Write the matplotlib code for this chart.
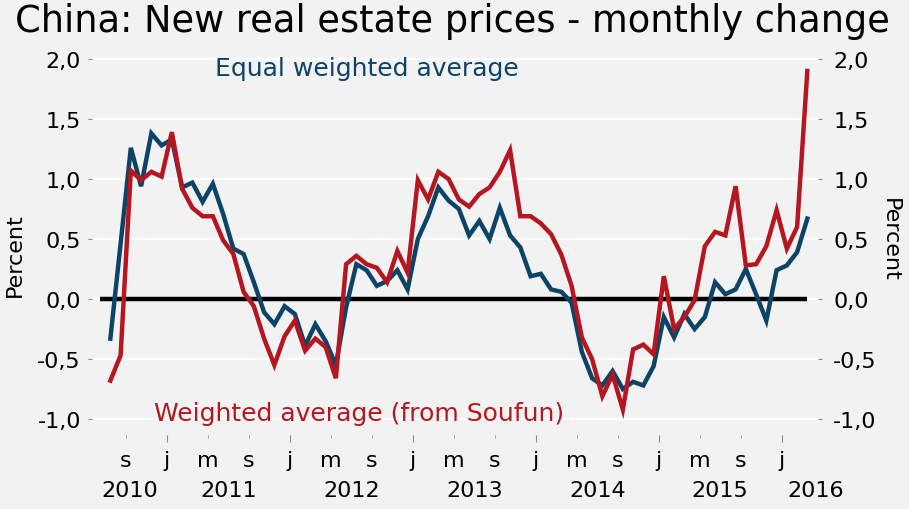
import numpy as np
import matplotlib
matplotlib.use('Agg')
import matplotlib.pyplot as plt
import matplotlib.transforms as mtransforms

# monthly change in %, Jul 2010 .. Mar 2016
start_year = 2010
start_month = 7
equal_w = [-0.33, 0.46, 1.26, 0.94, 1.38, 1.28, 1.33, 0.93, 0.97, 0.81,
           0.96, 0.71, 0.42, 0.375, 0.14, -0.11, -0.21, -0.06, -0.125, -0.39,
           -0.21, -0.35, -0.55, -0.07, 0.29, 0.24, 0.11, 0.15, 0.24, 0.08,
           0.50, 0.69, 0.93, 0.82, 0.75, 0.53, 0.65, 0.50, 0.76, 0.53,
           0.43, 0.19, 0.21, 0.08, 0.06, -0.03, -0.44, -0.66, -0.72, -0.60,
           -0.75, -0.69, -0.72, -0.56, -0.15, -0.32, -0.125, -0.25, -0.15, 0.14,
           0.04, 0.08, 0.25, 0.04, -0.18, 0.24, 0.28, 0.39, 0.67]
soufun = [-0.68, -0.47, 1.07, 0.99, 1.06, 1.02, 1.39, 0.92, 0.76, 0.69,
          0.69, 0.49, 0.375, 0.06, -0.06, -0.33, -0.55, -0.31, -0.18, -0.43,
          -0.33, -0.40, -0.66, 0.29, 0.36, 0.29, 0.26, 0.14, 0.40, 0.22,
          0.99, 0.83, 1.06, 1.00, 0.83, 0.77, 0.875, 0.93, 1.06, 1.24,
          0.69, 0.69, 0.63, 0.54, 0.37, 0.11, -0.32, -0.50, -0.81, -0.63,
          -0.92, -0.42, -0.38, -0.46, 0.19, -0.25, -0.15, -0.01, 0.44, 0.56,
          0.53, 0.94, 0.28, 0.29, 0.44, 0.74, 0.42, 0.60, 1.90]
month_letters = ['j', 'f', 'm', 'a', 'm', 'j', 'j', 'a', 's', 'o', 'n', 'd']
years = [2010, 2011, 2012, 2013, 2014, 2015, 2016]
yticks = [-1.0, -0.5, 0.0, 0.5, 1.0, 1.5, 2.0]

BLUE = '#0c4467'
RED = '#b5161f'
BG = '#f2f2f2'

# x = months since Jan 2010 (month start), points at mid month
x = (start_year - 2010) * 12 + (start_month - 1) + 0.5 + np.arange(len(equal_w))

fig = plt.figure(figsize=(9.09, 5.10), dpi=100, facecolor=BG)
ax = fig.add_axes([92/909, 1-436/510, (818-92)/909, (436-54)/510])
ax.set_facecolor(BG)
xmin, xmax = 4.71, 75.54
ax.set_xlim(xmin, xmax)
ax.set_ylim(-1.133, 2.05)

ax.grid(axis='y', color='white', lw=1.6)
ax.set_axisbelow(True)
ax.hlines(0, x[0] - 1, x[-1], color='black', lw=3.2, zorder=2)
ax.plot(x, equal_w, color=BLUE, lw=3.2, zorder=3, solid_joinstyle='miter')
ax.plot(x, soufun, color=RED, lw=3.2, zorder=4, solid_joinstyle='miter')

for s in ax.spines.values():
    s.set_visible(False)

fs = 16
ylabels = [f'{v:.1f}'.replace('.', ',') for v in yticks]
ax.set_yticks(yticks)
ax.set_yticklabels(ylabels, fontsize=fs)
ax.tick_params(axis='y', length=3, color='#888888', pad=5)

ax2 = ax.twinx()
ax2.set_ylim(ax.get_ylim())
ax2.set_yticks(yticks)
ax2.set_yticklabels(ylabels, fontsize=fs)
ax2.tick_params(axis='y', length=3, color='#888888', pad=8)
for s in ax2.spines.values():
    s.set_visible(False)

# x ticks every 4 months from Sep 2010
tick_pos = np.arange(8, xmax, 4)
major = [t for t in tick_pos if t % 12 == 0]
minor = [t for t in tick_pos if t % 12 != 0]
ax.set_xticks(major)
ax.set_xticklabels([month_letters[int(t) % 12] for t in major], fontsize=fs)
ax.set_xticks(minor, minor=True)
ax.set_xticklabels([month_letters[int(t) % 12] for t in minor], minor=True, fontsize=fs)
ax.tick_params(axis='x', which='major', length=5, color='#888888', pad=6)
ax.tick_params(axis='x', which='minor', length=2, color='#888888', pad=9)

trans = mtransforms.blended_transform_factory(ax.transData, ax.transAxes)
for yr in years:
    lo = max((yr - 2010) * 12, xmin)
    hi = min((yr - 2010) * 12 + 12, xmax + 3)
    ax.text((lo + hi) / 2, -0.143, str(yr), transform=trans, ha='center',
            va='center', fontsize=fs)

ax.text(0.378, 0.962, 'Equal weighted average', transform=ax.transAxes,
        color=BLUE, fontsize=18, ha='center', va='center')
ax.text(0.368, 0.058, 'Weighted average (from Soufun)', transform=ax.transAxes,
        color=RED, fontsize=18, ha='center', va='center')

fig.text(0.498, 1-22/510, 'China: New real estate prices - monthly change',
         fontsize=26.5, ha='center', va='center')
fig.text(15/909, 1-255/510, 'Percent', rotation=90, fontsize=fs,
         ha='center', va='center')
fig.text(890/909, 1-240/510, 'Percent', rotation=270, fontsize=fs,
         ha='center', va='center')

fig.savefig('out.png', dpi=100, facecolor=BG)
